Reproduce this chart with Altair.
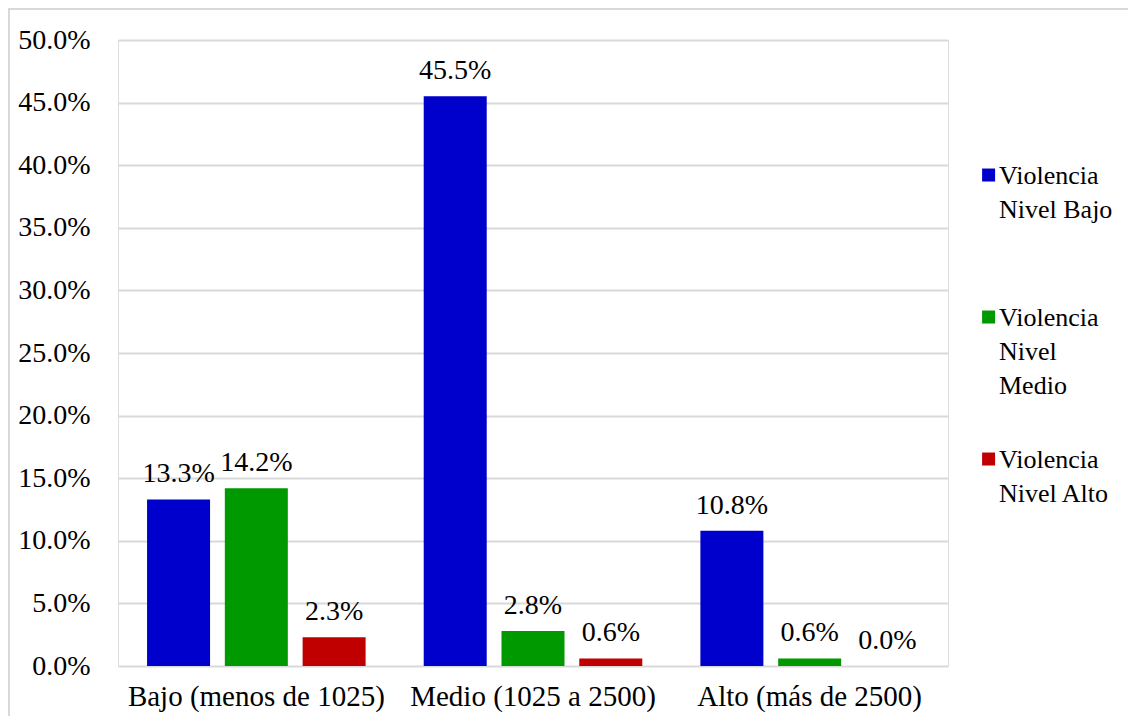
import altair as alt
import pandas as pd

categories = ["Bajo (menos de 1025)", "Medio (1025 a 2500)", "Alto (más de 2500)"]
series = ["Violencia Nivel Bajo", "Violencia Nivel Medio", "Violencia Nivel Alto"]
nivel_bajo = [13.3, 45.5, 10.8]
nivel_medio = [14.2, 2.8, 0.6]
nivel_alto = [2.3, 0.6, 0.0]
colors = ["#0000CC", "#009900", "#C00000"]
y_ticks = [0, 5, 10, 15, 20, 25, 30, 35, 40, 45, 50]

rows = []
for s, vals in zip(series, [nivel_bajo, nivel_medio, nivel_alto]):
    for c, v in zip(categories, vals):
        rows.append({"cat": c, "serie": s, "valor": v / 100.0})
df = pd.DataFrame(rows)

FONT = "Liberation Serif"

x = alt.X("cat:N", sort=categories, title=None,
          scale=alt.Scale(paddingInner=0.21, paddingOuter=0.105),
          axis=alt.Axis(labelAngle=0, labelFontSize=29, labelFont=FONT, labelColor="#000000",
                        domain=False, ticks=False, labelPadding=16, labelLimit=0))
xo = alt.XOffset("serie:N", sort=series, scale=alt.Scale(paddingInner=0.19, paddingOuter=0))
y = alt.Y("valor:Q", title=None,
          scale=alt.Scale(domain=[0, 0.5], nice=False),
          axis=alt.Axis(values=[t / 100.0 for t in y_ticks], format=".1%",
                        labelFontSize=28, labelFont=FONT, labelColor="#000000",
                        domain=False, ticks=False, labelPadding=28,
                        gridColor="#D9D9D9", gridWidth=2))

bars = alt.Chart(df).mark_bar().encode(
    x=x, xOffset=xo, y=y,
    color=alt.Color("serie:N", sort=series,
                    scale=alt.Scale(domain=series, range=colors),
                    legend=alt.Legend(title=None, orient="none", legendX=855, legendY=110,
                                      labelFont=FONT, labelFontSize=26, labelColor="#000000",
                                      symbolType="M-0.6,0.85H1.4V2.85H-0.6Z", symbolSize=169,
                                      symbolStrokeWidth=0,
                                      labelExpr="datum.label == 'Violencia Nivel Medio' ? ['Violencia', 'Nivel', 'Medio'] : [slice(datum.label, 0, 9), slice(datum.label, 10)]",
                                      labelBaseline="top", labelOffset=0, gridAlign="all",
                                      rowPadding=35, symbolOffset=0, labelLimit=200)),
)

labels = alt.Chart(df).mark_text(font=FONT, fontSize=28, baseline="alphabetic", dy=-17, color="#000000").encode(
    x=alt.X("cat:N", sort=categories), xOffset=alt.XOffset("serie:N", sort=series),
    y="valor:Q",
    text=alt.Text("valor:Q", format=".1%"),
)

border = alt.Chart(pd.DataFrame({"a": [0]})).mark_rect(fill=None, stroke="#D9D9D9", strokeWidth=2).encode(
    x=alt.value(-109), x2=alt.value(1030), y=alt.value(-31), y2=alt.value(720),
)

chart = alt.layer(border, bars, labels).properties(
    width=830, height=626,
    padding={"left": 110, "top": 32, "right": 180, "bottom": 50},
).configure_view(stroke=None).configure(
    autosize=alt.AutoSizeParams(type="none"),
    style={"guide-label": {"lineHeight": 34}},
)

chart.save("out.html", embed_options={"renderer": "svg", "actions": False})
